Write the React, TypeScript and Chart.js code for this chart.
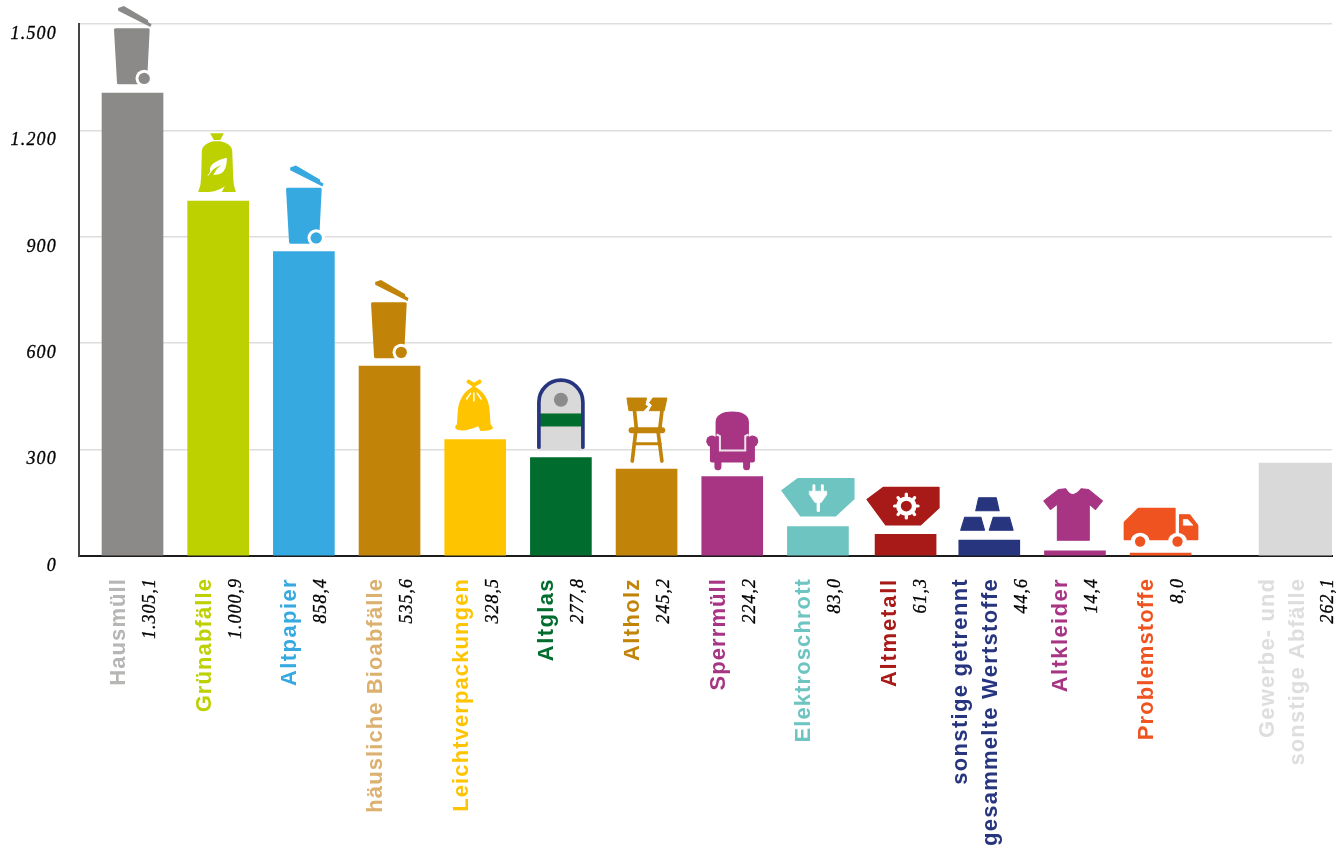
import React, { useEffect, useRef } from "react";
import { Chart, registerables } from "chart.js";

Chart.register(...registerables);

// Waste fractions, one entry per column; a "\n" breaks a name over two rotated lines.
const fractionNames = [
  "Hausmüll",
  "Grünabfälle",
  "Altpapier",
  "häusliche Bioabfälle",
  "Leichtverpackungen",
  "Altglas",
  "Altholz",
  "Sperrmüll",
  "Elektroschrott",
  "Altmetall",
  "sonstige getrennt\ngesammelte Wertstoffe",
  "Altkleider",
  "Problemstoffe",
];
const fractionValues = [1305.1, 1000.9, 858.4, 535.6, 328.5, 277.8, 245.2, 224.2, 83.0, 61.3, 44.6, 14.4, 8.0];
const fractionColors = [
  "#8b8a88", "#bdd000", "#36a9e1", "#c18308", "#ffc400", "#006c2e", "#c18308",
  "#a73584", "#6dc4c1", "#a81a17", "#27357f", "#a73584", "#ef5320",
];
const fractionLabelColors = [
  "#b7b6b5", "#bdd000", "#36a9e1", "#dcb06e", "#ffc400", "#006c2e", "#c18308",
  "#a73584", "#6dc4c1", "#a81a17", "#27357f", "#a73584", "#ef5320",
];

const commercialName = "Gewerbe- und\nsonstige Abfälle";
const commercialValue = 262.1;
const commercialColor = "#d9d9d9";
const commercialLabelColor = "#dedede";

const yTicks = [0, 300, 600, 900, 1200, 1500];

const SEPARATE_COLUMN_SHIFT = 0.575;
const METAL_COLUMN = 9;
const METAL_COLUMN_NUDGE = 0.023;
const LABEL_TOP = 578;
const SERIF = '"Liberation Serif", serif';
const SANS = '"Liberation Sans", sans-serif';

// Names set a little looser than the default tracking of the column labels.
const DEFAULT_TRACKING = 1.1;
const looseTracking: Record<string, number> = {
  Altmetall: 1.8,
  Altpapier: 1.4,
  Altglas: 1.4,
  Altholz: 1.4,
  Altkleider: 1.4,
  "sonstige getrennt": 1.3,
  "gesammelte Wertstoffe": 1.25,
};

const de = (v: number, digits: number) =>
  v.toLocaleString("de-DE", { minimumFractionDigits: digits, maximumFractionDigits: digits });

type Pt = [number, number];
type Ctx = CanvasRenderingContext2D;

function poly(ctx: Ctx, color: string, pts: Pt[], round = 3) {
  ctx.beginPath();
  pts.forEach(([x, y], i) => (i ? ctx.lineTo(x, y) : ctx.moveTo(x, y)));
  ctx.closePath();
  ctx.fillStyle = color;
  ctx.fill();
  if (round) {
    ctx.strokeStyle = color;
    ctx.lineWidth = round;
    ctx.lineJoin = "round";
    ctx.stroke();
  }
}

function disc(ctx: Ctx, color: string, x: number, y: number, rx: number, ry = rx) {
  ctx.beginPath();
  ctx.ellipse(x, y, rx, ry, 0, 0, Math.PI * 2);
  ctx.fillStyle = color;
  ctx.fill();
}

function seg(ctx: Ctx, color: string, w: number, x1: number, y1: number, x2: number, y2: number) {
  ctx.beginPath();
  ctx.moveTo(x1, y1);
  ctx.lineTo(x2, y2);
  ctx.strokeStyle = color;
  ctx.lineWidth = w;
  ctx.lineCap = "round";
  ctx.stroke();
}

// Icons are sketched in a 3x working grid: each entry of `icons` maps the grid
// point (ox, oy) onto the top centre of a column, `gap` pixels above it.
function bin(ctx: Ctx, c: string) {
  poly(ctx, c, [[347, 89], [445, 89], [437, 248], [356, 248]], 9);
  disc(ctx, "#fff", 433, 235, 26);
  disc(ctx, c, 433, 235, 17);
  poly(ctx, c, [[355, 24], [372, 18], [376, 20], [444, 60], [446, 67], [455, 72], [452, 81], [355, 32]], 0);
}

function leafBag(ctx: Ctx) {
  const c = fractionColors[1];
  poly(ctx, c, [[631, 400], [672, 400], [661, 420], [642, 420]], 0);
  ctx.beginPath();
  ctx.moveTo(595, 576);
  ctx.quadraticCurveTo(604, 555, 604, 530);
  ctx.lineTo(606, 450);
  ctx.quadraticCurveTo(610, 432, 640, 424);
  ctx.lineTo(662, 424);
  ctx.quadraticCurveTo(694, 432, 697, 450);
  ctx.lineTo(700, 530);
  ctx.quadraticCurveTo(700, 555, 708, 576);
  ctx.closePath();
  ctx.fillStyle = c;
  ctx.fill();
  ctx.beginPath();
  ctx.moveTo(628, 576);
  ctx.quadraticCurveTo(660, 572, 675, 558);
  ctx.lineTo(666, 576);
  ctx.closePath();
  ctx.fillStyle = "#fff";
  ctx.fill();
  ctx.beginPath();
  ctx.moveTo(632, 518);
  ctx.quadraticCurveTo(620, 488, 681, 473);
  ctx.quadraticCurveTo(682, 528, 640, 524);
  ctx.quadraticCurveTo(650, 505, 664, 495);
  ctx.quadraticCurveTo(640, 505, 632, 518);
  ctx.closePath();
  ctx.fill();
  seg(ctx, "#fff", 3, 632, 516, 625, 526);
}

function sack(ctx: Ctx) {
  const c = fractionColors[4];
  seg(ctx, c, 12, 356, 336, 372, 346);
  seg(ctx, c, 12, 389, 336, 372, 346);
  ctx.beginPath();
  ctx.moveTo(372, 350);
  ctx.quadraticCurveTo(330, 370, 324, 420);
  ctx.lineTo(321, 464);
  ctx.quadraticCurveTo(310, 475, 322, 480);
  ctx.quadraticCurveTo(345, 488, 385, 470);
  ctx.lineTo(392, 484);
  ctx.quadraticCurveTo(425, 484, 430, 474);
  ctx.lineTo(422, 464);
  ctx.lineTo(419, 420);
  ctx.quadraticCurveTo(414, 370, 372, 350);
  ctx.closePath();
  ctx.fillStyle = c;
  ctx.fill();
  seg(ctx, "#fff", 4.5, 372, 370, 372, 394);
  seg(ctx, "#fff", 4.5, 362, 371, 350, 388);
  seg(ctx, "#fff", 4.5, 382, 371, 394, 388);
}

function bottleBank(ctx: Ctx) {
  ctx.fillStyle = "#d9d9d9";
  ctx.beginPath();
  ctx.moveTo(570, 540);
  ctx.lineTo(570, 395);
  ctx.arc(636, 395, 66, Math.PI, 0);
  ctx.lineTo(702, 540);
  ctx.closePath();
  ctx.fill();
  ctx.fillStyle = fractionColors[5];
  ctx.fillRect(572, 429, 128, 39);
  disc(ctx, "#8c8b89", 636, 388, 21);
  ctx.beginPath();
  ctx.moveTo(570, 530);
  ctx.lineTo(570, 395);
  ctx.arc(636, 395, 66, Math.PI, 0);
  ctx.lineTo(702, 530);
  ctx.strokeStyle = fractionColors[10];
  ctx.lineWidth = 11;
  ctx.lineCap = "round";
  ctx.stroke();
}

function brokenChair(ctx: Ctx) {
  const c = fractionColors[6];
  poly(ctx, c, [[830, 383], [889, 383], [884, 404], [892, 408], [880, 421], [836, 421]], 3);
  poly(ctx, c, [[908, 383], [950, 383], [942, 421], [897, 421], [906, 405], [898, 397]], 3);
  seg(ctx, c, 11, 853, 422, 858, 472);
  seg(ctx, c, 11, 935, 422, 929, 472);
  seg(ctx, c, 18, 844, 480, 936, 480);
  seg(ctx, c, 11, 856, 488, 846, 572);
  seg(ctx, c, 11, 924, 488, 935, 572);
  seg(ctx, c, 9, 852, 520, 930, 520);
}

function armchair(ctx: Ctx) {
  const c = fractionColors[7];
  ctx.fillStyle = c;
  ctx.beginPath();
  ctx.moveTo(1097, 535);
  ctx.lineTo(1097, 455);
  ctx.bezierCurveTo(1097, 432, 1120, 423, 1147, 423);
  ctx.bezierCurveTo(1174, 423, 1197, 432, 1197, 455);
  ctx.lineTo(1197, 535);
  ctx.closePath();
  ctx.fill();
  disc(ctx, c, 1086, 512, 17);
  disc(ctx, c, 1208, 512, 17);
  ctx.beginPath();
  ctx.roundRect(1080, 512, 135, 64, 6);
  ctx.fill();
  ctx.fillStyle = c;
  ctx.fillRect(1105, 495, 85, 40);
  ctx.strokeStyle = "#efe3eb";
  ctx.lineWidth = 6;
  ctx.lineCap = "butt";
  ctx.lineJoin = "miter";
  ctx.beginPath();
  ctx.moveTo(1100, 492);
  ctx.lineTo(1110, 497);
  ctx.lineTo(1110, 540);
  ctx.lineTo(1186, 540);
  ctx.lineTo(1186, 497);
  ctx.lineTo(1196, 492);
  ctx.stroke();
  seg(ctx, c, 21, 1104, 575, 1104, 589);
  seg(ctx, c, 21, 1190, 575, 1190, 589);
}

function container(ctx: Ctx, c: string) {
  poly(ctx, c, [[34, 90], [78, 54], [230, 54], [230, 115], [180, 166], [85, 166]], 4);
}

function plug(ctx: Ctx) {
  seg(ctx, "#fff", 8, 121, 75, 121, 92);
  seg(ctx, "#fff", 8, 144, 75, 144, 92);
  poly(ctx, "#fff", [[109, 92], [156, 92], [156, 102], [141, 126], [124, 126], [109, 102]], 2);
  seg(ctx, "#fff", 9, 133, 120, 133, 150);
}

function gear(ctx: Ctx, x: number, y: number) {
  for (let i = 0; i < 8; i++) {
    const a = (i * Math.PI) / 4;
    seg(ctx, "#fff", 9, x + Math.cos(a) * 24, y + Math.sin(a) * 24, x + Math.cos(a) * 32, y + Math.sin(a) * 36);
  }
  disc(ctx, "#fff", x, y, 28, 29);
  disc(ctx, fractionColors[9], x, y, 15, 16);
}

function ingots(ctx: Ctx) {
  const c = fractionColors[10];
  poly(ctx, c, [[571, 110], [619, 110], [627, 149], [563, 149]], 3);
  poly(ctx, c, [[533, 168], [577, 168], [587, 207], [522, 207]], 3);
  poly(ctx, c, [[611, 168], [655, 168], [665, 207], [600, 207]], 3);
}

function shirt(ctx: Ctx) {
  const c = fractionColors[11];
  ctx.beginPath();
  ctx.moveTo(808, 84);
  ctx.quadraticCurveTo(826, 118, 850, 84);
  ctx.lineTo(870, 86);
  ctx.lineTo(908, 120);
  ctx.lineTo(889, 146);
  ctx.lineTo(872, 130);
  ctx.lineTo(872, 238);
  ctx.lineTo(785, 238);
  ctx.lineTo(785, 130);
  ctx.lineTo(766, 146);
  ctx.lineTo(748, 120);
  ctx.lineTo(788, 86);
  ctx.closePath();
  ctx.fillStyle = c;
  ctx.fill();
  ctx.strokeStyle = c;
  ctx.lineWidth = 3;
  ctx.lineJoin = "round";
  ctx.stroke();
}

function truck(ctx: Ctx) {
  const c = fractionColors[12];
  poly(ctx, c, [[967, 185], [1005, 144], [1105, 144], [1105, 237], [967, 237]], 4);
  poly(ctx, c, [[1118, 163], [1145, 163], [1167, 195], [1167, 237], [1118, 237]], 4);
  poly(ctx, "#fff", [[1128, 177], [1140, 177], [1154, 194], [1128, 194]], 2);
  disc(ctx, "#fff", 1010, 243, 26);
  disc(ctx, "#fff", 1112, 243, 26);
  disc(ctx, c, 1010, 243, 14, 16);
  disc(ctx, c, 1112, 243, 14, 16);
}

// Icon per column: drawing routine, grid origin, gap above the column, grid scale.
const FULL = 1 / 3;
const WIDE = 1 / 2.73;
const icons: { draw: (c: Ctx) => void; ox: number; oy: number; gap: number; sx: number }[] = [
  { draw: (c) => bin(c, fractionColors[0]), ox: 398, oy: 252, gap: 9, sx: FULL },
  { draw: leafBag, ox: 655, oy: 576, gap: 9, sx: FULL },
  { draw: (c) => bin(c, fractionColors[2]), ox: 396, oy: 252, gap: 8, sx: FULL },
  { draw: (c) => bin(c, fractionColors[3]), ox: 398, oy: 252, gap: 8, sx: FULL },
  { draw: sack, ox: 376, oy: 484, gap: 8.5, sx: FULL },
  { draw: bottleBank, ox: 636, oy: 540, gap: 7, sx: FULL },
  { draw: brokenChair, ox: 889, oy: 575, gap: 7, sx: FULL },
  { draw: armchair, ox: 1147, oy: 600, gap: 6, sx: FULL },
  { draw: (c) => { container(c, fractionColors[8]); plug(c); }, ox: 132, oy: 168, gap: 10, sx: WIDE },
  { draw: (c) => { container(c, fractionColors[9]); gear(c, 141, 110); }, ox: 139, oy: 166, gap: 9.5, sx: WIDE },
  { draw: ingots, ox: 600, oy: 208, gap: 9.7, sx: WIDE },
  { draw: shirt, ox: 833, oy: 238, gap: 10.7, sx: WIDE },
  { draw: truck, ox: 1066, oy: 260, gap: 6, sx: WIDE },
];

function rotatedText(
  ctx: Ctx,
  text: string,
  x: number,
  font: string,
  color: string,
  spacing: number,
  weight = 0,
) {
  ctx.save();
  ctx.translate(x, LABEL_TOP);
  ctx.rotate(-Math.PI / 2);
  ctx.font = font;
  ctx.fillStyle = color;
  ctx.textAlign = "right";
  ctx.textBaseline = "alphabetic";
  (ctx as any).letterSpacing = `${spacing}px`;
  ctx.fillText(text, 0, 0);
  if (weight) {
    ctx.strokeStyle = color;
    ctx.lineWidth = weight;
    ctx.strokeText(text, 0, 0);
  }
  ctx.restore();
}

function columnLabels(ctx: Ctx, name: string, value: number, x: number, color: string) {
  const lines = name.split("\n");
  const twoLines = lines.length > 1;
  const first = twoLines ? x - 22 : x - 7.5;
  lines.forEach((line, i) =>
    rotatedText(ctx, line, first + i * 30, `bold 22px ${SANS}`, color, looseTracking[line] ?? DEFAULT_TRACKING),
  );
  rotatedText(ctx, de(value, 1), x + (twoLines ? 37.5 : 22.5), `italic 18px ${SERIF}`, "#000", 1, 0.3);
}

const wasteDecor = {
  id: "wasteDecor",
  beforeDraw(chart: Chart) {
    (chart.ctx as any).letterSpacing = "1.2px";
  },
  afterDatasetsDraw(chart: Chart) {
    const ctx = chart.ctx;
    const xScale = chart.scales.x;
    const main = chart.getDatasetMeta(0).data;
    const extra = chart.getDatasetMeta(1).data[0];
    (ctx as any).letterSpacing = "0px";

    main.forEach((bar: any, i: number) => {
      const icon = icons[i];
      ctx.save();
      ctx.translate(bar.x, bar.y - icon.gap);
      ctx.scale(icon.sx, FULL);
      ctx.translate(-icon.ox, -icon.oy);
      icon.draw(ctx);
      ctx.restore();
      columnLabels(ctx, fractionNames[i], fractionValues[i], xScale.getPixelForValue(i), fractionLabelColors[i]);
    });
    columnLabels(ctx, commercialName, commercialValue, (extra as any).x, commercialLabelColor);
  },
};

export default function App() {
  const canvasRef = useRef<HTMLCanvasElement>(null);

  useEffect(() => {
    const chart = new Chart(canvasRef.current!, {
      type: "bar",
      data: {
        datasets: [
          {
            data: fractionValues.map((y, i) => ({ x: i === METAL_COLUMN ? i + METAL_COLUMN_NUDGE : i, y })),
            backgroundColor: fractionColors,
            barThickness: 61,
          },
          {
            data: [{ x: fractionValues.length + SEPARATE_COLUMN_SHIFT, y: commercialValue }],
            backgroundColor: commercialColor,
            barThickness: 73,
          },
        ],
      } as any,
      options: {
        animation: false,
        responsive: false,
        events: [],
        layout: { padding: { top: 24, right: 12, left: 0, bottom: 0 } },
        plugins: { legend: { display: false }, tooltip: { enabled: false } },
        scales: {
          x: {
            type: "linear",
            stacked: true,
            offset: false,
            min: -0.6245,
            max: 14,
            grid: { display: false },
            ticks: { display: false },
            border: { color: "#1c1c1c", width: 2 },
            afterFit: (s: any) => {
              s.height = 292;
              s.paddingLeft = 0;
              s.paddingRight = 0;
            },
          },
          y: {
            stacked: true,
            min: yTicks[0],
            max: yTicks[yTicks.length - 1],
            afterBuildTicks: (s: any) => {
              s.ticks = yTicks.map((value) => ({ value }));
            },
            grid: { color: "#dddddd", lineWidth: 1.5, drawTicks: false },
            border: { color: "#444444", width: 2 },
            ticks: {
              padding: 22,
              labelOffset: 10,
              color: "#000000",
              textStrokeColor: "#000000",
              textStrokeWidth: 0.3,
              font: { family: SERIF, size: 18, style: "italic" },
              callback: (v: any) => de(Number(v), 0),
            },
            afterFit: (s: any) => {
              s.width = 79;
              s.paddingTop = 0;
              s.paddingBottom = 0;
            },
          },
        },
      } as any,
      plugins: [wasteDecor],
    });
    return () => chart.destroy();
  }, []);

  return (
    <div style={{ position: "absolute", left: 0, top: 0, width: 1344, height: 848, background: "#fff" }}>
      <canvas ref={canvasRef} width={1344} height={848} style={{ display: "block" }} />
    </div>
  );
}
